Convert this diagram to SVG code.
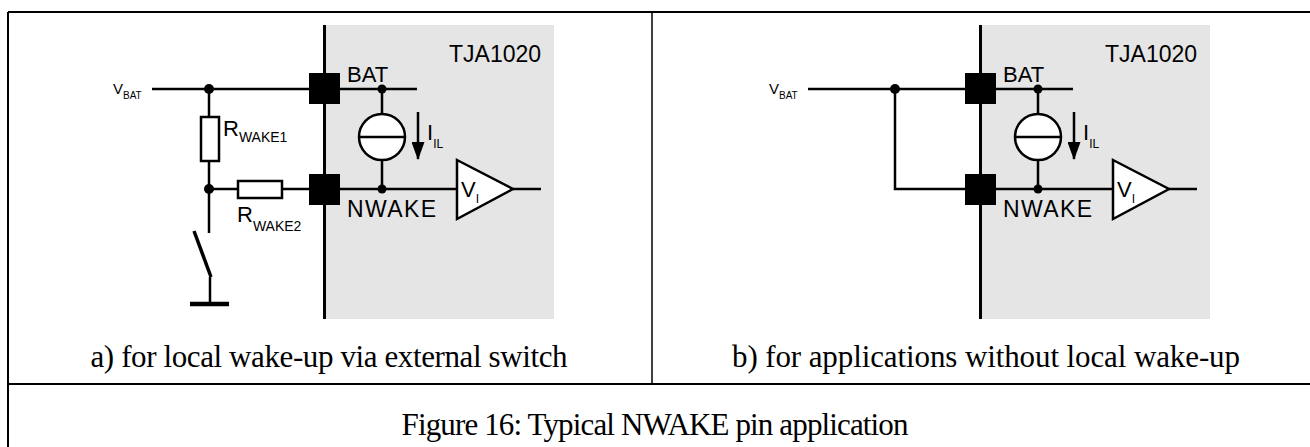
<svg xmlns="http://www.w3.org/2000/svg" width="1310" height="447" viewBox="0 0 1310 447">
<defs>
<style>
.frame{stroke:#000;stroke-width:2;fill:none}
.wire{stroke:#000;stroke-width:2.5;fill:none}
.chip{fill:#e5e5e5}
.chipline{stroke:#000;stroke-width:3}
.pin{fill:#000}
.res{fill:#fff;stroke:#000;stroke-width:2.5}
.dot{fill:#000}
.src{fill:#fff;stroke:#000;stroke-width:2.5}
.amp{fill:#fff;stroke:#000;stroke-width:2.5;stroke-linejoin:miter}
.lbl{font-family:"Liberation Sans",Arial,sans-serif;fill:#000}
.cap{font-family:"Liberation Serif","Times New Roman",serif;font-size:31px;fill:#000;text-anchor:middle}
</style>
<marker id="arr" markerUnits="userSpaceOnUse" markerWidth="18" markerHeight="13" refX="17" refY="6.5" orient="auto" viewBox="0 0 18 13">
<path d="M0,0 L18,6.5 L0,13 Z" fill="#000"/>
</marker>
</defs>
<rect width="1310" height="447" fill="#fff"/>

<g id="table">
<line class="frame" x1="8" y1="12" x2="1310" y2="12"/>
<line class="frame" x1="8" y1="12" x2="8" y2="447"/>
<line x1="652" y1="12" x2="652" y2="384" stroke="#000" stroke-width="1.5"/>
<line class="frame" x1="8" y1="384" x2="1310" y2="384"/>
</g>

<!-- Part a -->
<g id="chip-a">
<rect class="chip" x="325" y="25" width="229" height="294"/>
<line class="chipline" x1="324.5" y1="25" x2="324.5" y2="319"/>
<text class="lbl" x="449" y="62" font-size="23">TJA1020</text>
</g>
<g id="pin-bat-a"><rect class="pin" x="309" y="73" width="31" height="31"/><text class="lbl" x="347" y="82" font-size="22">BAT</text></g>
<g id="pin-nwake-a"><rect class="pin" x="309" y="174" width="31" height="31"/><text class="lbl" x="347" y="217" font-size="23" textLength="89">NWAKE</text></g>
<g id="vbat-a"><text class="lbl" x="113" y="94" font-size="15">V<tspan font-size="10" dy="5">BAT</tspan></text></g>
<g id="rwake1"><rect class="res" x="201" y="117" width="18" height="44"/><text class="lbl" x="223" y="136" font-size="22">R<tspan font-size="14" dy="6">WAKE1</tspan></text></g>
<g id="rwake2"><rect class="res" x="238" y="181" width="44" height="17"/><text class="lbl" x="237" y="222" font-size="22">R<tspan font-size="14" dy="9">WAKE2</tspan></text></g>
<g id="switch-a">
<line x1="194" y1="231" x2="211" y2="277" stroke="#000" stroke-width="3.5"/>
</g>
<g id="ground-a"><line x1="190" y1="304" x2="229" y2="304" stroke="#000" stroke-width="4.5"/></g>
<g id="isrc-a">
<circle class="src" cx="382" cy="137" r="23"/>
<line class="wire" x1="359" y1="137" x2="405" y2="137"/>
<line class="wire" x1="418" y1="112" x2="418" y2="159" marker-end="url(#arr)"/>
<text class="lbl" x="427" y="140" font-size="22">I<tspan font-size="12" dy="8">IL</tspan></text>
</g>
<g id="comp-a">
<path class="amp" d="M457,160 L513,189 L457,219 Z"/>
<text class="lbl" x="461" y="197" font-size="22">V<tspan font-size="12" dy="6">I</tspan></text>
</g>

<!-- Part b -->
<g id="chip-b">
<rect class="chip" x="981" y="25" width="229" height="294"/>
<line class="chipline" x1="980.5" y1="25" x2="980.5" y2="319"/>
<text class="lbl" x="1105" y="62" font-size="23">TJA1020</text>
</g>
<g id="pin-bat-b"><rect class="pin" x="965" y="73" width="31" height="31"/><text class="lbl" x="1003" y="82" font-size="22">BAT</text></g>
<g id="pin-nwake-b"><rect class="pin" x="965" y="174" width="31" height="31"/><text class="lbl" x="1003" y="217" font-size="23" textLength="89">NWAKE</text></g>
<g id="vbat-b"><text class="lbl" x="769" y="94" font-size="15">V<tspan font-size="10" dy="5">BAT</tspan></text></g>
<g id="isrc-b">
<circle class="src" cx="1038" cy="137" r="23"/>
<line class="wire" x1="1015" y1="137" x2="1061" y2="137"/>
<line class="wire" x1="1074" y1="112" x2="1074" y2="159" marker-end="url(#arr)"/>
<text class="lbl" x="1083" y="140" font-size="22">I<tspan font-size="12" dy="8">IL</tspan></text>
</g>
<g id="comp-b">
<path class="amp" d="M1113,160 L1169,189 L1113,219 Z"/>
<text class="lbl" x="1117" y="197" font-size="22">V<tspan font-size="12" dy="6">I</tspan></text>
</g>

<g id="connectors">
<!-- a -->
<path class="wire" d="M152,89 H309"/>
<path class="wire" d="M209,89 V117 M209,161 V233"/>
<path class="wire" d="M209,189 H238 M282,189 H309"/>
<path class="wire" d="M210,277 V304"/>
<path class="wire" d="M340,89 H417"/>
<path class="wire" d="M382,89 V114 M382,160 V189"/>
<path class="wire" d="M340,189 H457"/>
<path class="wire" d="M513,189 H541"/>
<circle class="dot" cx="209" cy="89" r="5"/>
<circle class="dot" cx="209" cy="189" r="5"/>
<circle class="dot" cx="382" cy="89" r="4.5"/>
<circle class="dot" cx="382" cy="189" r="4.5"/>
<!-- b -->
<path class="wire" d="M808,89 H965"/>
<path class="wire" d="M895,89 V189 H965"/>
<path class="wire" d="M996,89 H1073"/>
<path class="wire" d="M1038,89 V114 M1038,160 V189"/>
<path class="wire" d="M996,189 H1113"/>
<path class="wire" d="M1169,189 H1197"/>
<circle class="dot" cx="895" cy="89" r="5"/>
<circle class="dot" cx="1038" cy="89" r="4.5"/>
<circle class="dot" cx="1038" cy="189" r="4.5"/>
</g>

<g id="captions">
<text class="cap" x="329" y="367" textLength="477">a) for local wake-up via external switch</text>
<text class="cap" x="986" y="367" textLength="508">b) for applications without local wake-up</text>
<text class="cap" x="655" y="435" textLength="507">Figure 16: Typical NWAKE pin application</text>
</g>
</svg>
